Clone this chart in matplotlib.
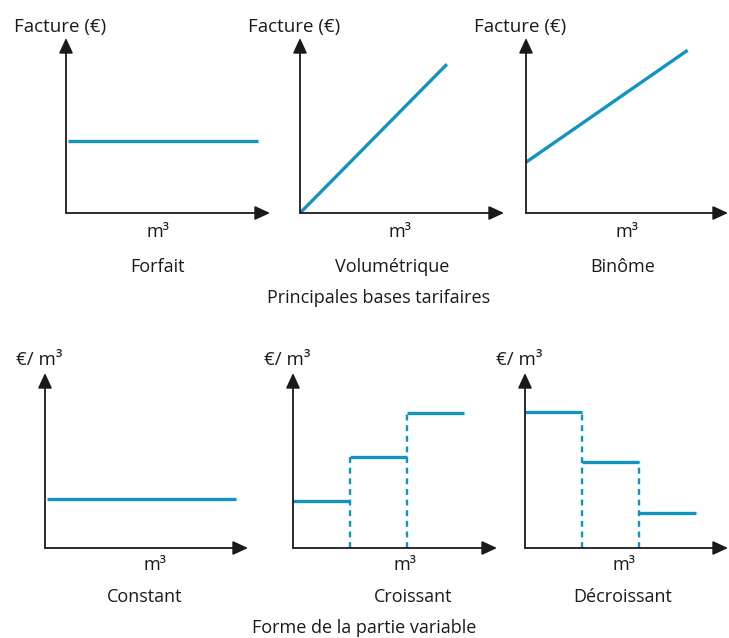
import matplotlib.pyplot as plt

plt.rcParams['font.family'] = ['Open Sans', 'DejaVu Sans']

BLUE = "#1294c2"
W, H = 729, 638

# top row: tariff bases (x, y in fractions of the axis frame)
forfait_x = [0.01, 0.94]
forfait_y = [0.41, 0.41]
volum_x = [0.0, 0.72]
volum_y = [0.0, 0.85]
binome_x = [0.0, 0.80]
binome_y = [0.29, 0.93]

# bottom row: shape of the variable part
constant_x = [0.01, 0.94]
constant_y = [0.28, 0.28]
step_edges = [0.0, 0.28, 0.56, 0.84]
croissant_levels = [0.27, 0.52, 0.77]
decroissant_levels = [0.78, 0.49, 0.20]

top_titles = ["Forfait", "Volumétrique", "Binôme"]
bottom_titles = ["Constant", "Croissant", "Décroissant"]

fig = plt.figure(figsize=(W / 100, H / 100), dpi=100)


def make_axes(left, bottom, right, top):
    # pixel box -> figure fraction
    ax = fig.add_axes([left / W, 1 - bottom / H, (right - left) / W, (bottom - top) / H])
    ax.set_xlim(0, 1)
    ax.set_ylim(0, 1)
    ax.axis("off")
    arrow = dict(arrowstyle="-|>,head_length=0.65,head_width=0.3", color="#1a1a1a",
                 lw=1.3, shrinkA=0, shrinkB=0, mutation_scale=14)
    ax.annotate("", xy=(1, 0), xytext=(0, 0), xycoords="axes fraction",
                arrowprops=arrow, annotation_clip=False)
    ax.annotate("", xy=(0, 1), xytext=(0, 0), xycoords="axes fraction",
                arrowprops=arrow, annotation_clip=False)
    return ax


def labels(ax, ylab, ylab_y, mx, my, name, nx, ny):
    ax.text(-0.03, ylab_y, ylab, ha="center", va="center", fontsize=13.5,
            transform=ax.transAxes, color="#1a1a1a")
    ax.text(mx, my, "m³", ha="center", va="center", fontsize=13,
            transform=ax.transAxes, color="#1a1a1a")
    ax.text(nx, ny, name, ha="center", va="center", fontsize=13,
            transform=ax.transAxes, color="#1a1a1a")


def steps(ax, levels):
    for i, lev in enumerate(levels):
        ax.plot([step_edges[i], step_edges[i + 1]], [lev, lev], color=BLUE,
                lw=2.4, solid_capstyle="butt", clip_on=False)
    for i in range(1, len(levels)):
        top = max(levels[i - 1], levels[i])
        ax.plot([step_edges[i], step_edges[i]], [0, top], color=BLUE, lw=1.7,
                linestyle=(0, (2.5, 2)), clip_on=False)


# top row
ax1 = make_axes(66, 213, 270, 38)
ax1.plot(forfait_x, forfait_y, color=BLUE, lw=2.4, solid_capstyle="butt")
labels(ax1, "Facture (€)", 1.063, 0.45, -0.11, top_titles[0], 0.45, -0.31)

ax2 = make_axes(300, 213, 504, 38)
ax2.plot(volum_x, volum_y, color=BLUE, lw=2.4, solid_capstyle="butt")
labels(ax2, "Facture (€)", 1.063, 0.49, -0.11, top_titles[1], 0.45, -0.31)

ax3 = make_axes(526, 213, 728, 38)
ax3.plot(binome_x, binome_y, color=BLUE, lw=2.4, solid_capstyle="butt")
labels(ax3, "Facture (€)", 1.063, 0.50, -0.11, top_titles[2], 0.48, -0.31)

fig.text(379 / W, 1 - 298 / H, "Principales bases tarifaires", ha="center",
         va="center", fontsize=13, color="#1a1a1a")

# bottom row
ax4 = make_axes(45, 548, 248, 373)
ax4.plot(constant_x, constant_y, color=BLUE, lw=2.4, solid_capstyle="butt")
labels(ax4, "€/ m³", 1.074, 0.54, -0.10, bottom_titles[0], 0.49, -0.28)

ax5 = make_axes(293, 548, 497, 373)
steps(ax5, croissant_levels)
labels(ax5, "€/ m³", 1.074, 0.55, -0.10, bottom_titles[1], 0.59, -0.28)

ax6 = make_axes(525, 548, 728, 373)
steps(ax6, decroissant_levels)
labels(ax6, "€/ m³", 1.074, 0.49, -0.10, bottom_titles[2], 0.48, -0.28)

fig.text(364 / W, 1 - 628 / H, "Forme de la partie variable", ha="center",
         va="center", fontsize=13, color="#1a1a1a")

fig.savefig("out.png", dpi=100)
